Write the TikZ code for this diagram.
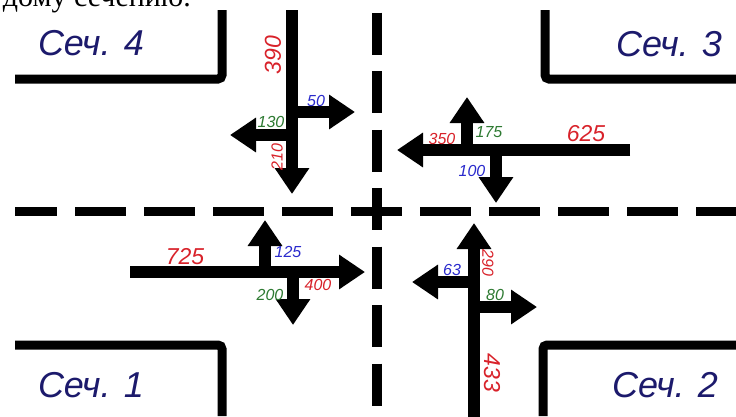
\documentclass[tikz,border=0pt]{standalone}
\usepackage{fontspec}
\setmainfont{Liberation Sans}
\newfontfamily\textserif{Liberation Serif}
\usetikzlibrary{arrows.meta}

\definecolor{secnavy}{HTML}{1C1A6C}
\definecolor{volred}{HTML}{D8222A}
\definecolor{volblue}{HTML}{2A2ACC}
\definecolor{volgreen}{HTML}{2E7A32}

\tikzset{
  kerb/.style={line width=9pt, rounded corners=4pt},
  hdash/.style={line width=9pt, dash pattern=on 51pt off 18pt, dash phase=9pt},
  vdash/.style={line width=10pt, dash pattern=on 42pt off 16.5pt},
  flow/.style={line width=12pt, -{Triangle[length=26pt,width=33pt]}},
  seclabel/.style={text=secnavy, font=\fontsize{36}{36}\selectfont\itshape, inner sep=0pt},
  vol/.style={font=\fontsize{16}{16}\selectfont\itshape, inner sep=0pt},
  volbig/.style={font=\fontsize{23}{23}\selectfont\itshape, inner sep=0pt}
}

\begin{document}
\begin{tikzpicture}[x=1pt,y=-1pt]
\useasboundingbox (0,0) rectangle (736,416);
\clip (0,0) rectangle (736,416);

% Text cut off at the top
\node[anchor=base east, inner sep=0pt, font=\textserif\fontsize{30}{30}\selectfont] (cut) at (191,6) {дому сечению.};

% Kerbs of the four corners
\draw[kerb] (222,10) -- (222,79) -- (15,79);
\draw[kerb] (545,10) -- (545,79) -- (736,79);
\draw[kerb] (15,345) -- (222,345) -- (222,416);
\draw[kerb] (736,345) -- (543,345) -- (543,416);

% Axis lines
\draw[hdash] (15,211) -- (736,211);
\draw[vdash] (377,12.5) -- (377,420);

% Section names
\node[seclabel] (sec4) at (91,43) {Сеч. 4};
\node[seclabel] (sec3) at (669,44) {Сеч. 3};
\node[seclabel] (sec1) at (91,385) {Сеч. 1};
\node[seclabel] (sec2) at (665,385) {Сеч. 2};

% Сеч. 4 - southbound
\draw[flow] (292,10) -- (292,194);
\draw[flow] (292,112) -- (355,112);
\draw[flow] (292,135) -- (230,135);
\node[volbig,text=volred,rotate=90] (v390) at (273,55) {390};
\node[vol,text=volblue] (v50) at (316,101) {50};
\node[vol,text=volgreen] (v130) at (271,122) {130};
\node[vol,text=volred,rotate=90] (v210) at (277,157) {210};

% Сеч. 3 - westbound
\draw[flow] (630,150) -- (397,150);
\draw[flow] (467,150) -- (467,97);
\draw[flow] (496,150) -- (496,203);
\node[volbig,text=volred] (v625) at (586,134) {625};
\node[vol,text=volred] (v350) at (442,139) {350};
\node[vol,text=volgreen] (v175) at (489,132) {175};
\node[vol,text=volblue] (v100) at (472,171) {100};

% Сеч. 1 - eastbound
\draw[flow] (130,272) -- (365,272);
\draw[flow] (265,272) -- (265,220);
\draw[flow] (293,272) -- (293,325);
\node[volbig,text=volred] (v725) at (185,257) {725};
\node[vol,text=volblue] (v125) at (288,252) {125};
\node[vol,text=volred] (v400) at (318,285) {400};
\node[vol,text=volgreen] (v200) at (270,295) {200};

% Сеч. 2 - northbound
\draw[flow] (474,420) -- (474,223);
\draw[flow] (474,282) -- (412,282);
\draw[flow] (474,307) -- (537,307);
\node[vol,text=volred,rotate=-90] (v290) at (488,263) {290};
\node[vol,text=volblue] (v63) at (452,270) {63};
\node[vol,text=volgreen] (v80) at (495,295) {80};
\node[volbig,text=volred,rotate=-90] (v433) at (492,373) {433};
\end{tikzpicture}
\end{document}
